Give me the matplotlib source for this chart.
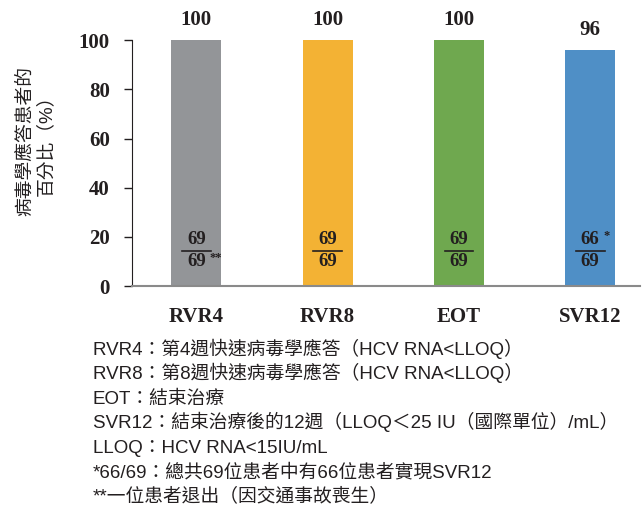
import matplotlib.pyplot as plt

categories = ['RVR4', 'RVR8', 'EOT', 'SVR12']
values = [100, 100, 100, 96]
numerators = ['69', '69', '69', '66']
denominators = ['69', '69', '69', '69']
marks_num = ['', '', '', '*']
marks_den = ['**', '', '', '']
colors = ['#939598', '#F3B234', '#6FA84F', '#4F8FC6']
notes = [
    'RVR4：第4週快速病毒學應答（HCV RNA<LLOQ）',
    'RVR8：第8週快速病毒學應答（HCV RNA<LLOQ）',
    'EOT：結束治療',
    'SVR12：結束治療後的12週（LLOQ＜25 IU（國際單位）/mL）',
    'LLOQ：HCV RNA<15IU/mL',
    '*66/69：總共69位患者中有66位患者實現SVR12',
    '**一位患者退出（因交通事故喪生）',
]

serif = 'Liberation Serif'
sans = ['Liberation Sans', 'Noto Sans CJK TC']

fig = plt.figure(figsize=(6.44, 5.09), dpi=100)
ax = fig.add_axes([0.205, 0.438, 0.789, 0.483])

x = range(len(categories))
ax.bar(x, values, width=0.38, color=colors, zorder=2)
ax.set_xlim(-0.49, 3.38)
ax.set_ylim(0, 100)
ax.set_yticks([0, 20, 40, 60, 80, 100])
ax.set_yticklabels(['0', '20', '40', '60', '80', '100'], fontfamily=serif,
                   fontweight='bold', fontsize=15, color='#231f20')
ax.set_xticks(list(x))
ax.set_xticklabels(categories, fontfamily=serif, fontweight='bold',
                   fontsize=15, color='#231f20')
ax.tick_params(axis='x', length=0, pad=15)
ax.tick_params(axis='y', length=6, width=1, color='#231f20', pad=10)
for s in ['top', 'right']:
    ax.spines[s].set_visible(False)
ax.spines['left'].set_color('#231f20')
ax.spines['bottom'].set_color('#8a8a8a')
ax.spines['bottom'].set_linewidth(1.5)

for i, v in enumerate(values):
    ax.text(i, v + 4, str(v), ha='center', va='bottom', fontfamily=serif,
            fontweight='bold', fontsize=15, color='#231f20')
    ax.text(i, 15.3, numerators[i], ha='center', va='bottom', fontfamily=serif,
            fontweight='bold', fontsize=13.5, color='#231f20')
    ax.text(i, 13.3, denominators[i], ha='center', va='top', fontfamily=serif,
            fontweight='bold', fontsize=13.5, color='#231f20')
    ax.plot([i - 0.11, i + 0.11], [14.3, 14.3], color='#231f20', lw=1.2, zorder=3)
    if marks_num[i]:
        ax.text(i + 0.1, 20.5, marks_num[i], ha='left', va='center', fontfamily=serif,
                fontweight='bold', fontsize=9, color='#231f20')
    if marks_den[i]:
        ax.text(i + 0.1, 11.5, marks_den[i], ha='left', va='center', fontfamily=serif,
                fontweight='bold', fontsize=9, color='#231f20')

# y label: two rotated lines, sitting a bit above the axes middle
fig.text(36 / 644, 1 - 141 / 509, '病毒學應答患者的\n百分比（%）', rotation=90,
         ha='center', va='center', multialignment='center', fontfamily=sans,
         fontsize=13.5, color='#231f20', linespacing=1.25)

y0 = 355
for k, line in enumerate(notes):
    fig.text(93 / 644, 1 - (y0 + k * 24.4) / 509, line, ha='left', va='baseline',
             fontfamily=sans, fontsize=13.5, color='#231f20')

fig.savefig('out.png', dpi=100)
